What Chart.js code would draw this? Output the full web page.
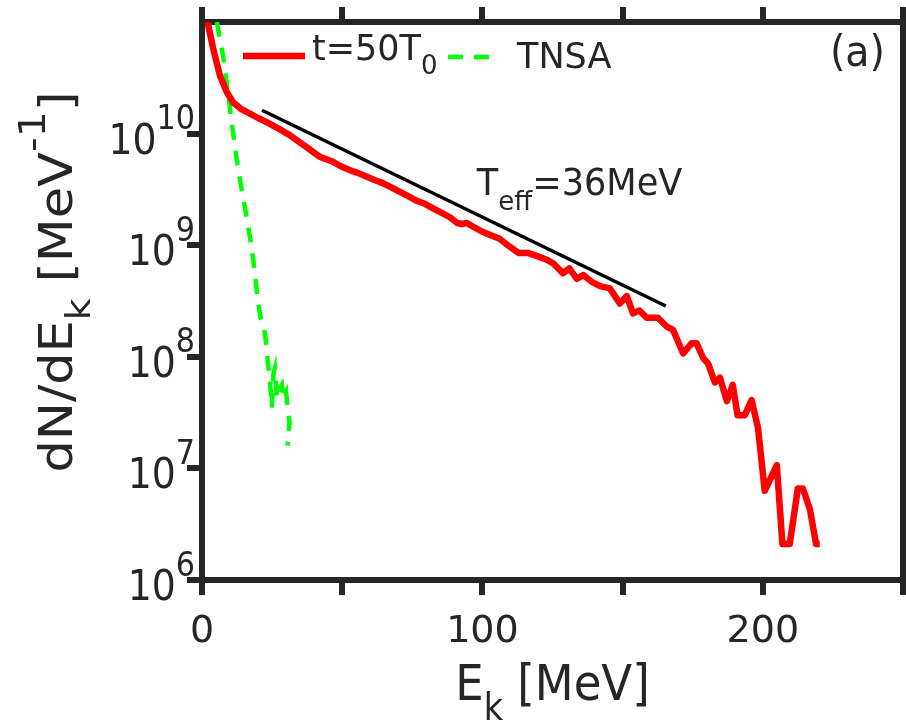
<!DOCTYPE html>
<html><head><meta charset="utf-8">
<script src="https://cdn.jsdelivr.net/npm/chart.js@4.4.1/dist/chart.umd.min.js"></script>
<style>html,body{margin:0;padding:0;background:#fff;}#wrap{width:906px;height:722px;}</style>
</head><body><div id="wrap"><canvas id="c" width="906" height="722"></canvas></div>
<script>
// ---------------- data ----------------
const redEnergy = [2, 3.9, 6.4, 8.9, 11.1, 14, 17.1, 20, 23.2, 27, 31, 35, 38.5, 42, 46.7, 49.5, 52.8, 56, 58.8, 62, 64.5, 67.5, 70.6, 73.5, 76.6, 79.5, 82.4, 85.5, 88.4, 91, 92.5, 94.5, 97, 100, 103, 106, 109.5, 113, 116.5, 120, 123, 125.5, 128.7, 131, 133.7, 136, 139, 142, 145.5, 149, 151.5, 153.7, 156, 158.6, 162.6, 165.8, 168, 171.6, 174.6, 176.4, 178.7, 180.5, 182.9, 184.7, 187.2, 189.3, 191, 193.6, 196, 198.3, 200.7, 205, 207, 209.6, 212.5, 214.3, 216.8, 219, 220.3];
const redCounts = [1.0e11, 5.9e10, 3.3e10, 2.34e10, 1.9e10, 1.66e10, 1.51e10, 1.38e10, 1.26e10, 1.12e10, 9.8e9, 8.3e9, 7.2e9, 6.2e9, 5.6e9, 5.1e9, 4.7e9, 4.4e9, 4.1e9, 3.8e9, 3.6e9, 3.3e9, 3.0e9, 2.75e9, 2.5e9, 2.35e9, 2.14e9, 1.95e9, 1.78e9, 1.58e9, 1.55e9, 1.58e9, 1.45e9, 1.32e9, 1.23e9, 1.15e9, 9.8e8, 8.5e8, 8.5e8, 7.9e8, 7.4e8, 6.8e8, 5.6e8, 6.2e8, 5.0e8, 5.4e8, 4.7e8, 4.3e8, 4.1e8, 3.0e8, 3.5e8, 2.45e8, 2.6e8, 2.24e8, 2.24e8, 1.86e8, 1.74e8, 1.07e8, 1.32e8, 1.32e8, 9.8e7, 8.7e7, 5.9e7, 6.5e7, 4.0e7, 5.6e7, 3.0e7, 3.0e7, 4.1e7, 2.3e7, 6.3e6, 1.07e7, 2.1e6, 2.1e6, 6.6e6, 6.6e6, 4.3e6, 2.1e6, 2.1e6];
const tnsaEnergy = [5.3, 7.5, 9.3, 10.7, 12.5, 14.3, 16, 17.8, 18.9, 20, 21, 22, 23, 23.5, 24.2, 24.9, 25.5, 26, 26.7, 27.8, 28.5, 29, 30, 30.7, 31.2, 30.5];
const tnsaCounts = [1.0e11, 5.0e10, 2.3e10, 1.2e10, 5.6e9, 3.0e9, 1.74e9, 9.3e8, 5.4e8, 3.1e8, 2.2e8, 1.9e8, 1.26e8, 8.9e7, 6.3e7, 3.5e7, 7.1e7, 7.9e7, 4.2e7, 5.2e7, 5.6e7, 4.2e7, 4.8e7, 3.2e7, 2.6e7, 1.6e7];
const fitEnergy = [21.4, 165.4];
const fitCounts = [1.62e10, 2.85e8];
const seriesLabels = ['t=50T_0', 'TNSA'];
const xTicks = [0, 50, 100, 150, 200, 250];
const xTickLabels = ['0', '', '100', '', '200', ''];
const yTicks = [1e6, 1e7, 1e8, 1e9, 1e10];
const yTickLabels = ['10^{6}', '10^{7}', '10^{8}', '10^{9}', '10^{10}'];
const xTitle = 'E_k [MeV]';
const yTitle = 'dN/dE_k [MeV^{-1}]';
const fitLabel = 'T_{eff}=36MeV';
const fitLabelAt = {x: 98, y: 2.8e9};
const panelLabel = '(a)';

// ---------------- helpers ----------------
const AX = '#262626';
const FAM = "'DejaVu Sans', sans-serif";
function parseTex(s) {
  const segs = []; let i = 0, buf = '';
  while (i < s.length) {
    const c = s[i];
    if (c === '_' || c === '^') {
      if (buf) { segs.push([buf, 0]); buf = ''; }
      let t; i++;
      if (s[i] === '{') { const j = s.indexOf('}', i); t = s.slice(i + 1, j); i = j + 1; }
      else { t = s[i]; i++; }
      segs.push([t, c === '_' ? -1 : 1]);
    } else { buf += c; i++; }
  }
  if (buf) segs.push([buf, 0]);
  return segs;
}
const SUB = {scale: 0.74, off: 0.40};
const SUP = {scale: 0.80, off: 0.58};
function segFont(m, size) { return (m ? size * (m < 0 ? SUB.scale : SUP.scale) : size) + 'px ' + FAM; }
function richWidth(ctx, segs, size) {
  let w = 0; for (const [t, m] of segs) { ctx.font = segFont(m, size); w += ctx.measureText(t).width; } return w;
}
// draws text with baseline at (x,y); sx squeezes along the text direction, sy across it
function drawRich(ctx, str, x, y, size, align, rot, sx, sy) {
  const segs = parseTex(str);
  ctx.save();
  ctx.translate(x, y);
  if (rot) ctx.rotate(rot);
  ctx.scale(sx || 1, sy || 1);
  const w = richWidth(ctx, segs, size);
  let cx = align === 'center' ? -w / 2 : align === 'right' ? -w : 0;
  ctx.fillStyle = AX; ctx.textBaseline = 'alphabetic'; ctx.textAlign = 'left';
  for (const [t, m] of segs) {
    ctx.font = segFont(m, size);
    const dy = m < 0 ? SUB.off * size : m > 0 ? -SUP.off * size : 0;
    ctx.fillText(t, cx, dy);
    cx += ctx.measureText(t).width;
  }
  ctx.restore();
}

const textPlugin = {
  id: 'texts',
  afterDraw(chart) {
    const ctx = chart.ctx, ca = chart.chartArea;
    const xs = chart.scales.x, ys = chart.scales.y;
    // y tick labels
    yTicks.forEach((v, i) => {
      const py = ys.getPixelForValue(v);
      drawRich(ctx, yTickLabels[i], ca.left - 7, py + 20, 42, 'right', 0, 0.9, 1);
    });
    // axis titles
    drawRich(ctx, xTitle, (ca.left + ca.right) / 2, 700, 50, 'center', 0, 0.9, 1);
    drawRich(ctx, yTitle, 72, 282, 51, 'center', -Math.PI / 2, 1, 0.9);
    // legend
    const ds = chart.data.datasets;
    const items = [
      {ds: ds[0], x0: ca.left + 41, y: ca.top + 34, len: 62, tx: ca.left + 110, ty: ca.top + 38},
      {ds: ds[1], x0: ca.left + 246, y: ca.top + 35, len: 52, tx: ca.left + 315, ty: ca.top + 46}
    ];
    items.forEach(it => {
      ctx.save();
      ctx.strokeStyle = it.ds.borderColor; ctx.lineWidth = it.ds.borderWidth;
      ctx.setLineDash(it.ds.borderDash || []);
      ctx.beginPath(); ctx.moveTo(it.x0, it.y); ctx.lineTo(it.x0 + it.len, it.y); ctx.stroke();
      ctx.restore();
      drawRich(ctx, it.ds.label, it.tx, it.ty, 35, 'left', 0, 1, 1);
    });
    // annotation
    drawRich(ctx, fitLabel, xs.getPixelForValue(fitLabelAt.x), ys.getPixelForValue(fitLabelAt.y), 37, 'left', 0, 0.95, 1);
    // panel label
    drawRich(ctx, panelLabel, ca.right - 18, ca.top + 44, 43, 'right', 0, 0.92, 1);
  }
};

const pts = (xs, ys) => xs.map((x, i) => ({x, y: ys[i]}));
const gridOpts = {drawOnChartArea: false, tickLength: 15, lineWidth: 6, color: AX};
const borderOpts = {width: 6, color: AX};
const noPad = s => { s.paddingLeft = 0; s.paddingRight = 0; s.paddingTop = 0; s.paddingBottom = 0; };

new Chart(document.getElementById('c'), {
  type: 'line',
  data: {datasets: [
    {label: seriesLabels[0], data: pts(redEnergy, redCounts), borderColor: '#ff0000', borderWidth: 6.5, pointRadius: 0, tension: 0, borderJoinStyle: 'round', clip: 0},
    {label: seriesLabels[1], data: pts(tnsaEnergy, tnsaCounts), borderColor: '#00ff00', borderWidth: 4.5, borderDash: [15, 11], pointRadius: 0, tension: 0, clip: 0},
    {label: 'fit', data: pts(fitEnergy, fitCounts), borderColor: '#000000', borderWidth: 3.5, pointRadius: 0, clip: 0}
  ]},
  options: {
    responsive: false, animation: false, devicePixelRatio: 1,
    layout: {padding: 0},
    plugins: {legend: {display: false}, tooltip: {enabled: false}},
    scales: {
      x: {type: 'linear', position: 'bottom', min: 0, max: 250, z: 1,
          afterBuildTicks: s => { s.ticks = xTicks.map(v => ({value: v})); },
          ticks: {callback: (v, i) => xTickLabels[i], font: {family: 'DejaVu Sans', size: 38}, color: AX, padding: 14, maxRotation: 0, autoSkip: false},
          grid: gridOpts, border: borderOpts, afterFit: s => { s.height = 142; noPad(s); }},
      x2: {type: 'linear', position: 'top', min: 0, max: 250, z: 1,
          afterBuildTicks: s => { s.ticks = xTicks.map(v => ({value: v})); },
          ticks: {display: false}, grid: gridOpts, border: borderOpts, afterFit: s => { s.height = 22; noPad(s); }},
      y: {type: 'logarithmic', position: 'left', min: 1e6, max: 1e11, z: 1,
          afterBuildTicks: s => { s.ticks = yTicks.map(v => ({value: v})); },
          ticks: {display: false}, grid: gridOpts, border: borderOpts, afterFit: s => { s.width = 202; noPad(s); }},
      y2: {type: 'logarithmic', position: 'right', min: 1e6, max: 1e11, z: 1,
          ticks: {display: false}, grid: {drawOnChartArea: false, drawTicks: false}, border: borderOpts, afterFit: s => { s.width = 3; noPad(s); }}
    }
  },
  plugins: [textPlugin]
});
</script></body></html>
